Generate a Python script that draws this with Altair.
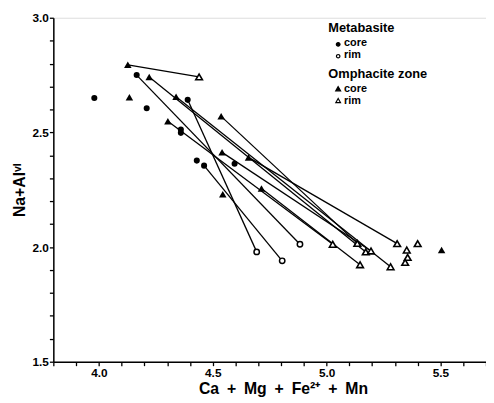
import altair as alt
import pandas as pd

# Metabasite (circles)
meta_core_x = [3.98, 4.166, 4.21, 4.36, 4.36, 4.39, 4.43, 4.462, 4.596]
meta_core_y = [2.65, 2.75, 2.605, 2.513, 2.498, 2.642, 2.377, 2.355, 2.363]
meta_rim_x = [4.693, 4.805, 4.883]
meta_rim_y = [1.979, 1.94, 2.012]
meta_pairs = [(5, 0), (7, 1), (1, 2)]

# Omphacite zone (triangles)
omph_core_x = [4.127, 4.134, 4.221, 4.339, 4.303, 4.537, 4.541, 4.657, 4.544, 4.714, 5.505]
omph_core_y = [2.795, 2.653, 2.742, 2.656, 2.549, 2.570, 2.413, 2.391, 2.23, 2.255, 1.987]
omph_rim_x = [4.44, 5.027, 5.135, 5.172, 5.195, 5.147, 5.31, 5.281, 5.352, 5.356, 5.345, 5.40]
omph_rim_y = [2.742, 2.012, 2.016, 1.979, 1.983, 1.923, 2.015, 1.914, 1.987, 1.955, 1.933, 2.015]
omph_pairs = [(0, 0), (2, 3), (3, 7), (4, 1), (5, 2), (6, 4), (7, 6), (9, 5)]

x_ticks = [round(3.8 + 0.1 * i, 1) for i in range(20)]
y_ticks = [round(1.5 + 0.1 * i, 1) for i in range(16)]

FONT = "Liberation Sans"

seg_rows = []
pid = 0
for c, r in meta_pairs:
    seg_rows.append({"pid": pid, "x": meta_core_x[c], "y": meta_core_y[c]})
    seg_rows.append({"pid": pid, "x": meta_rim_x[r], "y": meta_rim_y[r]})
    pid += 1
for c, r in omph_pairs:
    seg_rows.append({"pid": pid, "x": omph_core_x[c], "y": omph_core_y[c]})
    seg_rows.append({"pid": pid, "x": omph_rim_x[r], "y": omph_rim_y[r]})
    pid += 1
segs = pd.DataFrame(seg_rows)

mc = pd.DataFrame({"x": meta_core_x, "y": meta_core_y})
mr = pd.DataFrame({"x": meta_rim_x, "y": meta_rim_y})
oc = pd.DataFrame({"x": omph_core_x, "y": omph_core_y})
orr = pd.DataFrame({"x": omph_rim_x, "y": omph_rim_y})

major = "abs(datum.value*2 - round(datum.value*2)) < 0.01"
xscale = alt.Scale(domain=[3.8, 5.7], nice=False, zero=False)
yscale = alt.Scale(domain=[1.5, 3.0], nice=False, zero=False)

xaxis = alt.Axis(
    values=x_ticks, grid=False, domainColor="black", domainWidth=1.5,
    tickColor="black", tickWidth=1.3, tickSize=4,
    labelExpr=f"{major} ? format(datum.value, '.1f') : ''",
    labelOverlap=False,
    labelFont=FONT, labelFontWeight="bold", labelFontSize=12, labelColor="black",
    labelPadding=2, labelFlush=False,
    title="Ca\u2002+\u2002Mg\u2002+\u2002Fe²⁺\u2002+\u2002Mn", titleFont=FONT, titleFontWeight="bold",
    titleFontSize=16, titleColor="black", titlePadding=2, titleX=233,
)
yaxis = alt.Axis(
    values=y_ticks, grid=False, domainColor="black", domainWidth=1.5,
    tickColor="black", tickWidth=1.3, tickSize=4,
    labelExpr=f"{major} ? format(datum.value, '.1f') : ''",
    labelOverlap=False,
    labelFont=FONT, labelFontWeight="bold", labelFontSize=12, labelColor="black",
    labelPadding=1, labelFlush=False,
    title="Na+Alᵛᴵ", titleFont=FONT, titleFontWeight="bold",
    titleFontSize=16, titleColor="black", titlePadding=5,
)

X = alt.X("x:Q", scale=xscale, axis=xaxis)
Y = alt.Y("y:Q", scale=yscale, axis=yaxis)

lines = alt.Chart(segs).mark_line(color="black", strokeWidth=1.3).encode(
    x=X, y=Y, detail="pid:N"
)
p_mc = alt.Chart(mc).mark_point(shape="circle", filled=True, color="black", size=38, opacity=1).encode(x=X, y=Y)
p_mr = alt.Chart(mr).mark_point(shape="circle", filled=True, fill="white", stroke="black", strokeWidth=1.5, size=30, opacity=1).encode(x=X, y=Y)
p_oc = alt.Chart(oc).mark_point(shape="triangle-up", filled=True, color="black", size=58, opacity=1).encode(x=X, y=Y)
p_or = alt.Chart(orr).mark_point(shape="triangle-up", filled=True, fill="white", stroke="black", strokeWidth=1.6, size=46, opacity=1).encode(x=X, y=Y)

# Legend (manual)
leg_text = pd.DataFrame({
    "t": ["Metabasite", "core", "rim", "Omphacite zone", "core", "rim"],
    "px": [279, 295, 295, 279, 295, 295],
    "py": [10, 26, 38, 57, 72, 85],
    "fs": [13, 11, 11, 13, 11, 11],
})
legend_text = alt.Chart(leg_text).mark_text(
    font=FONT, fontWeight="bold", align="left", baseline="middle", color="black"
).encode(
    x=alt.X("px:Q", scale=None), y=alt.Y("py:Q", scale=None),
    text="t:N", size=alt.Size("fs:Q", scale=None, legend=None),
)
leg_sym = pd.DataFrame({
    "px": [289, 289, 289, 289],
    "py": [27, 39, 72, 84],
    "shape": ["circle", "circle", "triangle-up", "triangle-up"],
    "fill": ["black", "white", "black", "white"],
    "sz": [14, 12, 24, 22],
})
legend_sym = alt.Chart(leg_sym).mark_point(filled=True, stroke="black", strokeWidth=1.2, opacity=1).encode(
    x=alt.X("px:Q", scale=None), y=alt.Y("py:Q", scale=None),
    shape=alt.Shape("shape:N", scale=None, legend=None),
    fill=alt.Fill("fill:N", scale=None, legend=None),
    size=alt.Size("sz:Q", scale=None, legend=None),
)

chart = alt.layer(lines, p_mc, p_mr, p_oc, p_or, legend_text, legend_sym).properties(
    width=439, height=349,
    autosize=alt.AutoSizeParams(type="none"),
    padding={"left": 46, "top": 7, "right": 0, "bottom": 40},
).configure_view(stroke=None).configure(background="white")

chart.save("out.html", embed_options={"renderer": "svg", "actions": False})
